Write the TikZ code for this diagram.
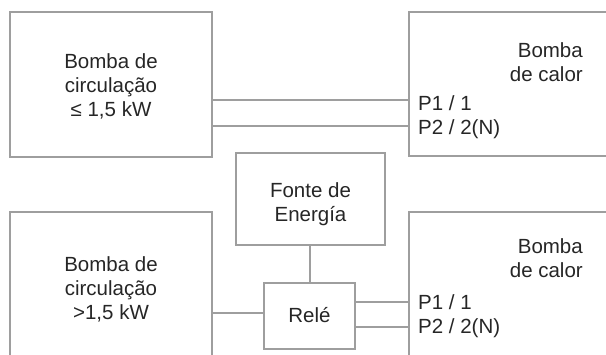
\documentclass[tikz,border=0pt]{standalone}
\usepackage{fontspec}
\setmainfont{Liberation Sans}
\definecolor{linegray}{gray}{0.62}
\definecolor{txt}{gray}{0.15}
\tikzset{
  box/.style={draw=linegray, line width=2.6pt, rectangle, inner sep=0pt, outer sep=0pt, anchor=north west},
  wire/.style={draw=linegray, line width=2.6pt},
  lbl/.style={text=txt, inner sep=0pt, font=\fontsize{20.5}{24}\selectfont},
}
\begin{document}
\begin{tikzpicture}[x=1pt,y=-1pt]
\useasboundingbox (0,0) rectangle (606,354);
\clip (0,0) rectangle (606,354);
% boxes
\node[box, minimum width=202pt, minimum height=145pt] (tl) at (10,12) {};
\node[box, minimum width=215pt, minimum height=144pt] (tr) at (409,12) {};
\node[box, minimum width=149pt, minimum height=92pt] (fe) at (236,153) {};
\node[box, minimum width=202pt, minimum height=170pt] (bl) at (10,212) {};
\node[box, minimum width=91pt, minimum height=66pt] (rl) at (264,283) {};
\node[box, minimum width=215pt, minimum height=170pt] (br) at (409,212) {};
% texts
\node[lbl, anchor=base] (tlt1) at (111,68) {Bomba de};
\node[lbl, anchor=base] (tlt2) at (111,92) {circulação};
\node[lbl, anchor=base] (tlt3) at (111,116) {≤ 1,5 kW};
\node[lbl, anchor=base east] (trt1) at (583,57) {Bomba};
\node[lbl, anchor=base east] (trt2) at (583,81) {de calor};
\node[lbl, anchor=base west] (trt3) at (418,110) {P1 / 1};
\node[lbl, anchor=base west] (trt4) at (418,134) {P2 / 2(N)};
\node[lbl, anchor=base] (fet1) at (310.5,197) {Fonte de};
\node[lbl, anchor=base] (fet2) at (310.5,221) {Energía};
\node[lbl, anchor=base] (blt1) at (111,271) {Bomba de};
\node[lbl, anchor=base] (blt2) at (111,295) {circulação};
\node[lbl, anchor=base] (blt3) at (111,319) {>1,5 kW};
\node[lbl, anchor=base] (rlt) at (309.5,322) {Relé};
\node[lbl, anchor=base east] (brt1) at (583,253) {Bomba};
\node[lbl, anchor=base east] (brt2) at (583,277) {de calor};
\node[lbl, anchor=base west] (brt3) at (418,309) {P1 / 1};
\node[lbl, anchor=base west] (brt4) at (418,333) {P2 / 2(N)};
% connectors
\draw[wire] (tl.east |- 0,100) -- (tr.west |- 0,100);
\draw[wire] (tl.east |- 0,126) -- (tr.west |- 0,126);
\draw[wire] (fe.south -| 310,0) -- (rl.north -| 310,0);
\draw[wire] (bl.east |- 0,313) -- (rl.west |- 0,313);
\draw[wire] (rl.east |- 0,302) -- (br.west |- 0,302);
\draw[wire] (rl.east |- 0,327) -- (br.west |- 0,327);
\end{tikzpicture}
\end{document}
